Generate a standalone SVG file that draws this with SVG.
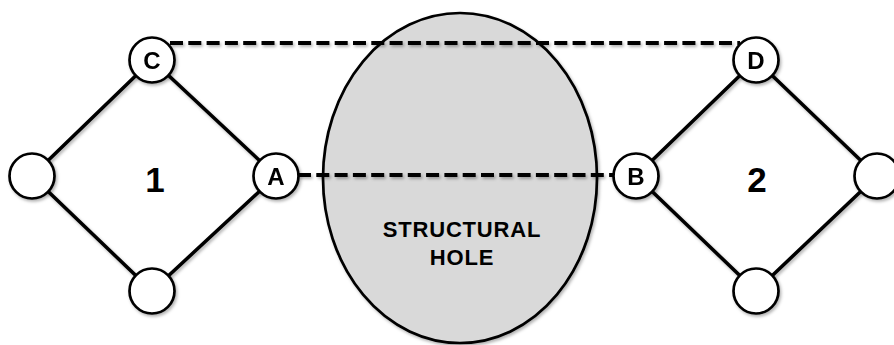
<svg xmlns="http://www.w3.org/2000/svg" width="894" height="345" viewBox="0 0 894 345">
<defs>
<filter id="sh" x="-20%" y="-20%" width="140%" height="140%">
<feDropShadow dx="1.5" dy="2" stdDeviation="1.5" flood-color="#000" flood-opacity="0.3"/>
</filter>
<style>
.edge{stroke:#000;stroke-width:3.5;fill:none}
.dash{stroke:#000;stroke-width:3.8;stroke-dasharray:13 5.3;fill:none}
.node{fill:#fff;stroke:#000;stroke-width:2.7}
.lbl{font-family:"Liberation Sans",Arial,sans-serif;font-weight:bold;font-size:24px;text-anchor:middle;fill:#000}
.num{font-family:"Liberation Sans",Arial,sans-serif;font-weight:bold;font-size:35px;text-anchor:middle;fill:#000}
.hole{font-family:"Liberation Sans",Arial,sans-serif;font-weight:bold;font-size:22px;text-anchor:middle;fill:#000;letter-spacing:0.8px}
</style>
</defs>
<rect width="894" height="345" fill="#fff"/>
<g id="hole">
<ellipse cx="460" cy="178" rx="137" ry="165" fill="#d9d9d9" stroke="#000" stroke-width="2.7" filter="url(#sh)"/>
<text class="hole" x="462" y="237">STRUCTURAL</text>
<text class="hole" x="462" y="265">HOLE</text>
</g>
<g id="connectors" filter="url(#sh)">
<line class="dash" x1="170" y1="43" x2="740" y2="43"/>
<line class="dash" x1="298" y1="175" x2="614" y2="175"/>
<polyline class="edge" points="152,60 32,176 152,291 276,176 152,60"/>
<polyline class="edge" points="756,60 636,176 756,291 877,176 756,60"/>
</g>
<g id="label1"><text class="num" x="155" y="192">1</text></g>
<g id="label2"><text class="num" x="757" y="192">2</text></g>
<g id="nodeC" filter="url(#sh)"><circle class="node" cx="152" cy="60" r="22.5"/><text class="lbl" x="152" y="69">C</text></g>
<g id="nodeL1" filter="url(#sh)"><circle class="node" cx="32" cy="176" r="22.5"/></g>
<g id="nodeA" filter="url(#sh)"><circle class="node" cx="276" cy="176" r="22.5"/><text class="lbl" x="276" y="185">A</text></g>
<g id="nodeBot1" filter="url(#sh)"><circle class="node" cx="152" cy="291" r="22.5"/></g>
<g id="nodeD" filter="url(#sh)"><circle class="node" cx="756" cy="60" r="22.5"/><text class="lbl" x="756" y="69">D</text></g>
<g id="nodeB" filter="url(#sh)"><circle class="node" cx="636" cy="176" r="22.5"/><text class="lbl" x="636" y="185">B</text></g>
<g id="nodeR2" filter="url(#sh)"><circle class="node" cx="877" cy="176" r="22.5"/></g>
<g id="nodeBot2" filter="url(#sh)"><circle class="node" cx="756" cy="291" r="22.5"/></g>
</svg>
